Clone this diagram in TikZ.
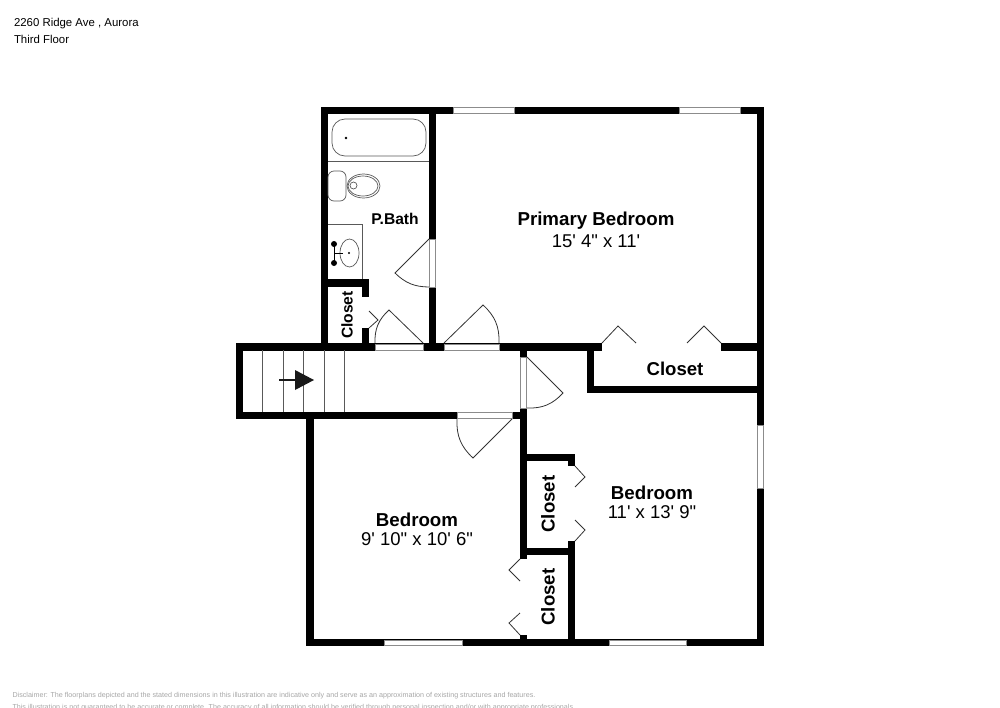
\documentclass[tikz,border=0pt]{standalone}
\usepackage{tikz}
\usepackage{xcolor}
\usepackage{fontspec}
\newfontfamily\planfont{Liberation Sans}
\definecolor{framegray}{gray}{0.55}
\definecolor{fixturegray}{gray}{0.35}
\tikzset{
    wall/.style={fill=black},
    opening/.style={fill=white,draw=framegray,line width=0.7pt},
    swing/.style={draw=black!80,line width=0.8pt},
    fixture/.style={draw=fixturegray,line width=0.7pt},
    roomname/.style={font=\planfont\bfseries\fontsize{18.7}{22}\selectfont},
    roomsize/.style={font=\planfont\fontsize{18.5}{22}\selectfont},
    closetname/.style={font=\planfont\bfseries\fontsize{18.6}{22}\selectfont},
    smallname/.style={font=\planfont\bfseries\fontsize{15.6}{18}\selectfont},
    header/.style={anchor=west,font=\planfont\fontsize{11.4}{13}\selectfont},
    disclaimer/.style={anchor=west,text=black!35,font=\planfont\fontsize{7.15}{9}\selectfont}
}

\begin{document}
\begin{tikzpicture}[x=1pt,y=-1pt]
    \useasboundingbox (0,0) rectangle (1000,707);

    % Header
    \node[header] (address) at (10.5,23.5) {2260 Ridge Ave , Aurora};
    \node[header] (floor) at (10.5,39.5) {Third Floor};

    % Outer walls
    \fill[wall] (321,107) rectangle (764,114);
    \fill[wall] (321,107) rectangle (328,350);
    \fill[wall] (757,107) rectangle (764,646);
    \fill[wall] (306,639) rectangle (764,646);
    \fill[wall] (306,412) rectangle (314,646);

    % Bath walls
    \fill[wall] (429,107) rectangle (436,350);
    \fill[wall] (321,279) rectangle (369,287);
    \fill[wall] (362,279) rectangle (369,297);
    \fill[wall] (362,328) rectangle (369,350);

    % Hall walls
    \fill[wall] (236,343) rectangle (602,350.5);
    \fill[wall] (236,343) rectangle (243,419);
    \fill[wall] (236,412) rectangle (527,419);
    \fill[wall] (520,343) rectangle (527,559);

    % Closet walls
    \fill[wall] (721,343) rectangle (764,351);
    \fill[wall] (587,343) rectangle (594,393);
    \fill[wall] (587,386) rectangle (764,393);
    \fill[wall] (520,454) rectangle (575,461);
    \fill[wall] (568,454) rectangle (575,466);
    \fill[wall] (520,548) rectangle (575,555);
    \fill[wall] (568,541) rectangle (575,646);
    \fill[wall] (520,635) rectangle (527,646);

    % Windows
    \draw[opening] (453,107.5) rectangle (514,113);
    \draw[opening] (679,107.5) rectangle (740,113);
    \draw[opening] (384,640) rectangle (462,645.5);
    \draw[opening] (609,640) rectangle (686,645.5);
    \draw[opening] (757.5,425) rectangle (763.5,488);

    % Door openings
    \draw[opening] (375,344) rectangle (423,350);
    \draw[opening] (444,344) rectangle (499,350);
    \draw[opening] (429.5,239) rectangle (435.5,287);
    \draw[opening] (520.5,357) rectangle (526.5,408);
    \draw[opening] (457,412.5) rectangle (512,418.5);

    % Door swings
    \draw[swing] (423,343) -- (389,310) to[bend right=25] (375,343);
    \draw[swing] (444,343) -- (483,305) to[bend left=25] (499,343);
    \draw[swing] (429,239) -- (395,273) to[bend right=22] (429,287);
    \draw[swing] (527,357) -- (563,393) to[bend left=25] (527,408);
    \draw[swing] (512,419) -- (473,458) to[bend left=25] (457,419);

    % Closet doors
    \draw[swing] (369,311) -- (378,320) -- (369,328);
    \draw[swing] (602,343) -- (618,326) -- (636,343);
    \draw[swing] (687,343) -- (704,326) -- (721,343);
    \draw[swing] (575,466) -- (585,477) -- (575,487);
    \draw[swing] (575,520) -- (585,530) -- (575,541);
    \draw[swing] (520,559) -- (509,570) -- (520,581);
    \draw[swing] (520,613) -- (509,623) -- (520,635);

    % Stairs
    \foreach \stairx in {262,283,303,324,344}
        \draw[fixture] (\stairx,350) -- (\stairx,412);
    \draw[line width=2.5pt,black!90] (279,380) -- (296,380);
    \fill[black!90] (295,370) -- (314,380) -- (295,390) -- cycle;

    % Tub
    \draw[fixture,rounded corners=13pt] (332,119) rectangle (426,156);
    \fill (346,138) circle (1.3);
    \draw[fixture] (328,161) -- (429,161);

    % Toilet
    \draw[fixture,rounded corners=6pt] (328,171) rectangle (346,201);
    \draw[fixture] (363.5,186) ellipse (16.5 and 12);
    \draw[fixture] (363,186) ellipse (15 and 10);
    \draw[fixture] (353.5,185.5) ellipse (3.5 and 3.5);

    % Vanity
    \draw[fixture] (328,224.5) -- (362,224.5) -- (362,279);
    \draw[fixture] (349.5,253) ellipse (9.5 and 14);
    \fill (349,253) circle (1.2);
    \draw[line width=1pt] (334,244) -- (334,263);
    \draw[line width=1pt] (334,253) -- (343,253);
    \fill (334,244) circle (3);
    \fill (334,263) circle (3);

    % Labels
    \node[roomname] (primaryname) at (596,221) {Primary Bedroom};
    \node[roomsize] (primarysize) at (596,241.5) {15' 4" x 11'};
    \node[smallname] (bathname) at (395,219) {P.Bath};
    \node[closetname] (hallcloset) at (675,369) {Closet};
    \node[roomname] (rightname) at (652,492.5) {Bedroom};
    \node[roomsize] (rightsize) at (652,512.5) {11' x 13' 9"};
    \node[roomname] (leftname) at (417,519.5) {Bedroom};
    \node[roomsize] (leftsize) at (417,539.5) {9' 10" x 10' 6"};
    \node[smallname,rotate=90] (bathcloset) at (347,315) {Closet};
    \node[closetname,rotate=90] (uppercloset) at (548,504) {Closet};
    \node[closetname,rotate=90] (lowercloset) at (548,597) {Closet};

    % Disclaimer
    \node[disclaimer] (disclaimerone) at (9,696) {Disclaimer: The floorplans depicted and the stated dimensions in this illustration are indicative only and serve as an approximation of existing structures and features.};
    \node[disclaimer] (disclaimertwo) at (9,708) {This illustration is not guaranteed to be accurate or complete. The accuracy of all information should be verified through personal inspection and/or with appropriate professionals.};
\end{tikzpicture}
\end{document}
